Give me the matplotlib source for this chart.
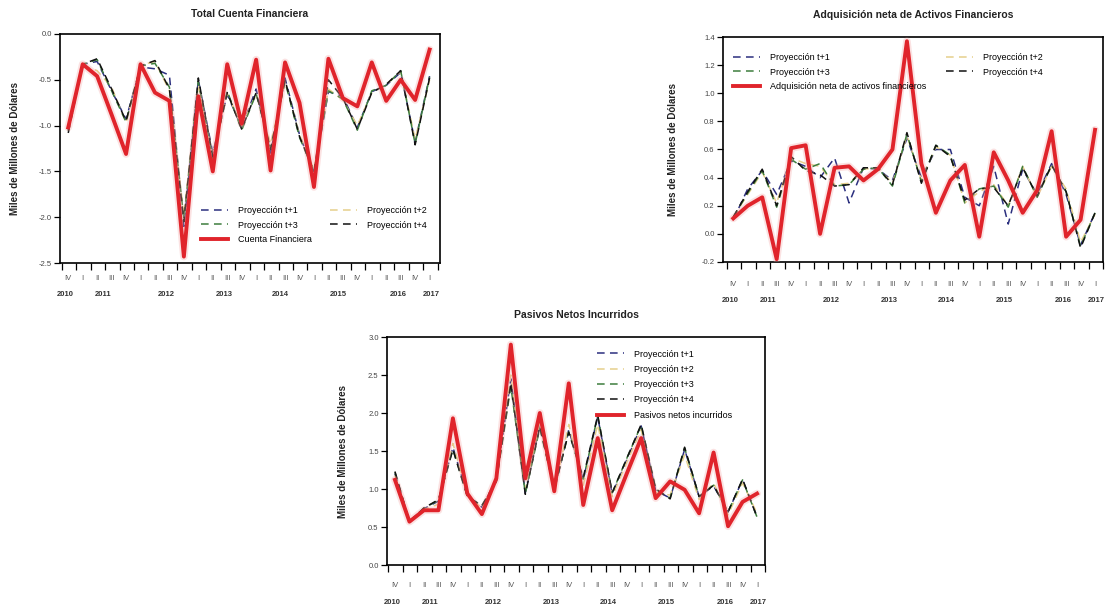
import matplotlib
matplotlib.use("Agg")
import matplotlib.pyplot as plt
import numpy as np

# ---------------- data ----------------
quarters = ["IV"] + ["I", "II", "III", "IV"] * 6 + ["I"]
years = ["2010", "2011", "2012", "2013", "2014", "2015", "2016", "2017"]
year_pos = [-0.2, 2.4, 6.8, 10.8, 14.7, 18.7, 22.8, 25.1]

# Total Cuenta Financiera
cf_actual = [-1.02, -0.33, -0.46, -0.88, -1.31, -0.33, -0.64, -0.73, -2.43, -0.68, -1.50, -0.33, -0.98,
             -0.28, -1.49, -0.31, -0.75, -1.67, -0.27, -0.70, -0.79, -0.31, -0.73, -0.50, -0.72, -0.17]
cf_t1 = [-1.05, -0.33, -0.30, -0.62, -0.93, -0.36, -0.38, -0.45, -2.10, -0.50, -1.30, -0.66, -1.02,
         -0.60, -1.30, -0.48, -1.10, -1.52, -0.63, -0.68, -1.02, -0.63, -0.56, -0.42, -1.18, -0.46]
cf_t2 = [-1.03, -0.34, -0.40, -0.58, -0.97, -0.34, -0.30, -0.62, -1.98, -0.55, -1.33, -0.65, -1.00,
         -0.66, -1.20, -0.52, -1.10, -1.48, -0.60, -0.72, -1.00, -0.64, -0.55, -0.41, -1.15, -0.50]
cf_t3 = [-1.06, -0.33, -0.28, -0.62, -0.96, -0.35, -0.32, -0.58, -2.02, -0.52, -1.36, -0.62, -1.05,
         -0.65, -1.25, -0.52, -1.13, -1.50, -0.62, -0.71, -1.05, -0.62, -0.56, -0.40, -1.20, -0.47]
cf_t4 = [-1.08, -0.33, -0.27, -0.60, -0.95, -0.35, -0.29, -0.60, -2.05, -0.48, -1.34, -0.64, -1.04,
         -0.64, -1.26, -0.50, -1.12, -1.50, -0.50, -0.70, -1.04, -0.64, -0.55, -0.40, -1.21, -0.48]

# Adquisicion neta de Activos Financieros
af_actual = [0.11, 0.20, 0.26, -0.18, 0.61, 0.63, 0.00, 0.47, 0.48, 0.38, 0.46, 0.60, 1.37,
             0.50, 0.15, 0.38, 0.49, -0.02, 0.58, 0.38, 0.15, 0.31, 0.73, -0.02, 0.10, 0.74]
af_t1 = [0.10, 0.32, 0.45, 0.28, 0.52, 0.48, 0.40, 0.54, 0.22, 0.47, 0.46, 0.38, 0.68,
         0.40, 0.60, 0.60, 0.26, 0.20, 0.48, 0.07, 0.46, 0.28, 0.50, 0.28, -0.08, 0.15]
af_t2 = [0.12, 0.28, 0.44, 0.22, 0.54, 0.50, 0.48, 0.35, 0.36, 0.46, 0.47, 0.36, 0.70,
         0.38, 0.62, 0.56, 0.22, 0.30, 0.35, 0.20, 0.48, 0.26, 0.48, 0.32, -0.06, 0.14]
af_t3 = [0.12, 0.29, 0.45, 0.19, 0.53, 0.46, 0.50, 0.34, 0.35, 0.46, 0.47, 0.34, 0.71,
         0.37, 0.63, 0.56, 0.22, 0.32, 0.34, 0.19, 0.48, 0.26, 0.49, 0.30, -0.09, 0.15]
af_t4 = [0.12, 0.30, 0.46, 0.20, 0.55, 0.45, 0.42, 0.34, 0.35, 0.47, 0.47, 0.35, 0.72,
         0.36, 0.63, 0.55, 0.24, 0.32, 0.33, 0.20, 0.47, 0.27, 0.49, 0.30, -0.10, 0.15]

# Pasivos Netos Incurridos
pn_actual = [1.12, 0.57, 0.72, 0.72, 1.93, 0.94, 0.67, 1.14, 2.90, 1.14, 2.00, 0.97, 2.39,
             0.79, 1.67, 0.72, 1.20, 1.67, 0.88, 1.10, 0.99, 0.68, 1.48, 0.51, 0.83, 0.94]
pn_t1 = [1.20, 0.58, 0.74, 0.84, 1.55, 0.92, 0.76, 1.12, 2.45, 0.95, 1.85, 0.98, 1.78,
         1.12, 1.95, 0.93, 1.38, 1.83, 0.98, 0.88, 1.52, 0.90, 1.04, 0.70, 1.12, 0.64]
pn_t2 = [1.18, 0.57, 0.73, 0.80, 1.60, 0.93, 0.74, 1.12, 2.50, 1.00, 1.88, 0.98, 1.85,
         1.05, 1.85, 0.90, 1.35, 1.78, 0.95, 0.92, 1.45, 0.86, 1.08, 0.66, 1.08, 0.68]
pn_t3 = [1.22, 0.57, 0.75, 0.85, 1.52, 0.90, 0.78, 1.10, 2.35, 0.94, 1.80, 1.00, 1.75,
         1.13, 1.96, 0.95, 1.40, 1.84, 1.00, 0.88, 1.54, 0.90, 1.05, 0.70, 1.12, 0.63]
pn_t4 = [1.23, 0.57, 0.75, 0.86, 1.52, 0.90, 0.78, 1.10, 2.40, 0.93, 1.82, 1.00, 1.75,
         1.15, 1.97, 0.95, 1.40, 1.85, 1.00, 0.87, 1.55, 0.90, 1.05, 0.70, 1.13, 0.63]

proj_labels = ["Proyección t+1", "Proyección t+2", "Proyección t+3", "Proyección t+4"]

# ---------------- style ----------------
plt.rcParams['font.family'] = ['Liberation Sans', 'DejaVu Sans']
RED = '#e0242b'
GLOW = '#f4a0a0'
PROJ_COLORS = ['#2b2f7e', '#e6cf8c', '#3d7d3d', '#111111']
W, H = 1108.0, 609.0

fig = plt.figure(figsize=(W / 100, H / 100), dpi=100)
fig.patch.set_facecolor('white')


def px_rect(left, top, right, bottom):
    return [left / W, 1 - bottom / H, (right - left) / W, (bottom - top) / H]


def panel(box, xlim, ylim, yticks, actual, projs, actual_label, title, title_y,
          ylab_x, leg_anchor, leg_ncol, leg_colspace, leg_ls, roman_pad, year_off):
    ax = fig.add_axes(px_rect(*box))
    x = np.arange(len(quarters))
    handles = []
    for vals, col, lab in zip(projs, PROJ_COLORS, proj_labels):
        h, = ax.plot(x, vals, color=col, lw=1.1, dashes=(5, 3.5), label=lab, zorder=2)
        handles.append(h)
    ax.plot(x, actual, color=GLOW, lw=5.5, alpha=0.3, solid_joinstyle='round',
            solid_capstyle='round', zorder=3)
    hr, = ax.plot(x, actual, color=RED, lw=2.8, label=actual_label, zorder=4,
                  solid_joinstyle='round')
    ax.set_xlim(*xlim)
    ax.set_ylim(*ylim)
    ax.set_yticks(yticks)
    ax.set_yticklabels([f"{v:.1f}" for v in yticks])
    ax.tick_params(axis='y', direction='out', length=4, width=0.9, labelsize=5.5,
                   labelcolor='#444444', pad=2)
    ax.set_xticks(np.arange(len(quarters) + 1) - 0.45)
    ax.set_xticklabels([])
    ax.tick_params(axis='x', which='major', direction='out', length=5, width=0.9)
    ax.set_xticks(x, minor=True)
    ax.set_xticklabels(quarters, minor=True)
    ax.tick_params(axis='x', which='minor', length=0, labelsize=5.5, labelcolor='#555555',
                   pad=roman_pad)
    for sp in ax.spines.values():
        sp.set_linewidth(1.2)
    for yr, pos in zip(years, year_pos):
        ax.annotate(yr, xy=(pos, 0), xycoords=('data', 'axes fraction'),
                    xytext=(0, -year_off * 0.72), textcoords='offset points',
                    ha='center', va='center', fontsize=5.5, color='#333333',
                    fontweight='bold')
    # legend order: SAS row-major -> matplotlib column-major
    if leg_ncol == 2:
        order = [handles[0], handles[2], hr, handles[1], handles[3]]
    else:
        order = handles + [hr]
    ax.legend(handles=order, loc='upper left', bbox_to_anchor=leg_anchor, ncol=leg_ncol,
              frameon=False, fontsize=6.5, handlelength=3.0, handletextpad=1.1,
              columnspacing=leg_colspace, labelspacing=leg_ls, borderpad=0, borderaxespad=0)
    cx = (box[0] + box[2]) / 2
    fig.text(cx / W, 1 - title_y / H, title, ha='center', va='center', fontsize=7.5,
             fontweight='bold', color='#222222')
    fig.text(ylab_x / W, 1 - ((box[1] + box[3]) / 2) / H, "Miles de Millones de Dólares",
             rotation=90, ha='center', va='center', fontsize=7, fontweight='bold',
             color='#222222')
    return ax


panel((60, 34, 440, 263), (-0.57, 25.72), (-2.5, 0.0), np.arange(-2.5, 0.01, 0.5),
      cf_actual, [cf_t1, cf_t2, cf_t3, cf_t4], "Cuenta Financiera",
      "Total Cuenta Financiera", 14, 15, (0.37, 0.248), 2, 2.0, 0.6, 9, 31)

panel((723, 37, 1103, 262), (-0.71, 25.55), (-0.2, 1.4), np.arange(-0.2, 1.41, 0.2),
      af_actual, [af_t1, af_t2, af_t3, af_t4], "Adquisición neta de activos financieros",
      "Adquisición neta de Activos Financieros", 15, 673, (0.026, 0.93), 2, 2.2, 0.65, 14, 39)

panel((387, 337, 765, 565), (-0.55, 25.48), (0.0, 3.0), np.arange(0.0, 3.01, 0.5),
      pn_actual, [pn_t1, pn_t2, pn_t3, pn_t4], "Pasivos netos incurridos",
      "Pasivos Netos Incurridos", 315, 343, (0.555, 0.945), 1, 1.0, 0.7, 12, 37)

fig.savefig("out.png", dpi=100, facecolor='white')
